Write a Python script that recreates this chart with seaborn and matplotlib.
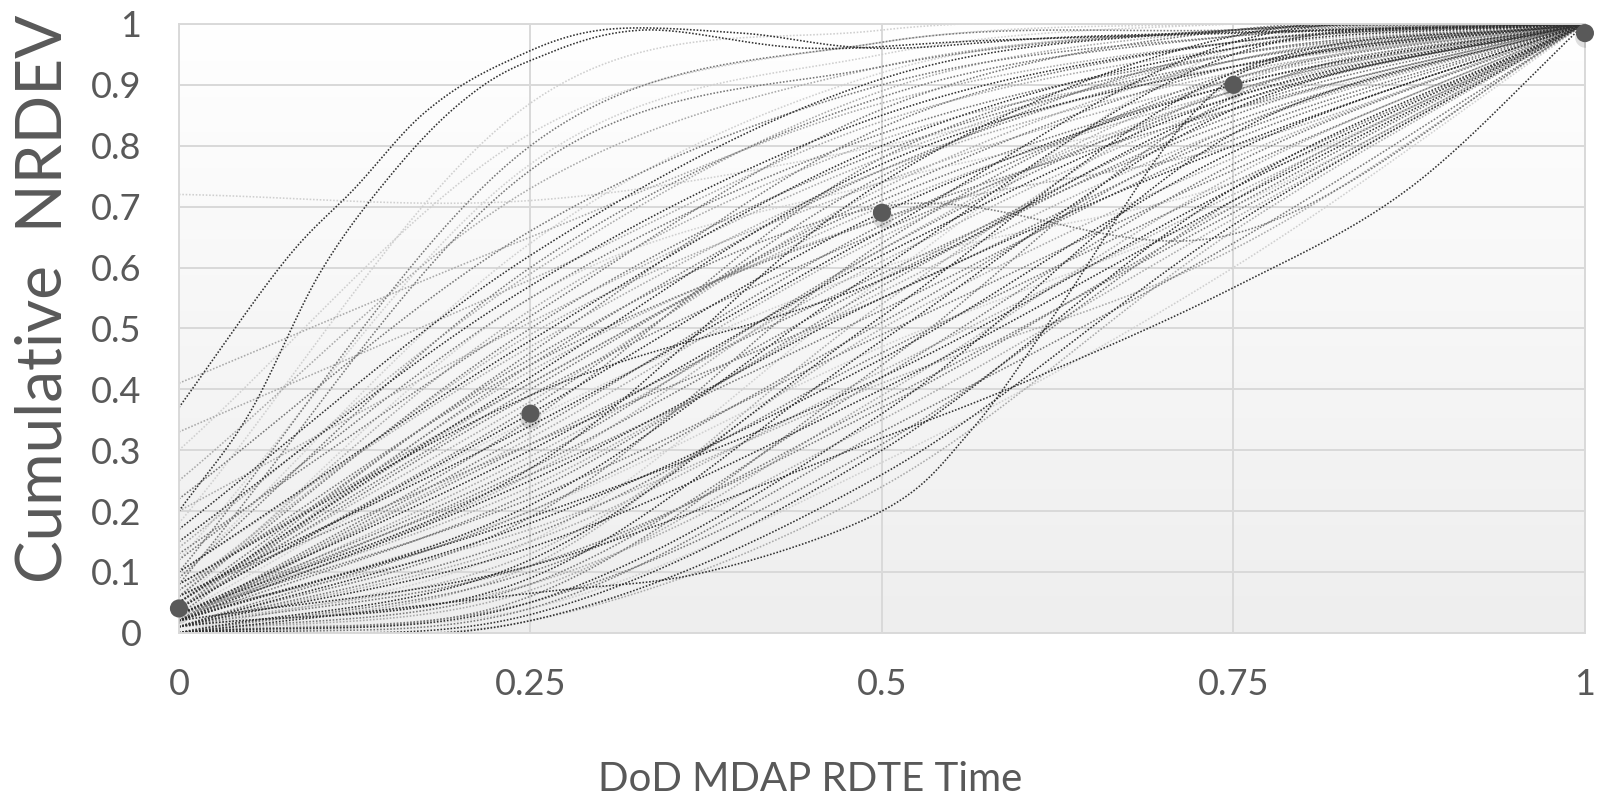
import numpy as np
import pandas as pd
import matplotlib
matplotlib.use("Agg")
import matplotlib.pyplot as plt
import seaborn as sns
from matplotlib.colors import LinearSegmentedColormap

# normalised time points where each programme's curve is sampled
CURVE_X = [0, 0.25, 0.5, 0.75, 1]

# outlier curves read with extra points (dark)
EARLY_A_X = [0, 0.075, 0.125, 0.175, 0.23, 0.3, 0.4, 0.5, 0.65, 1]
EARLY_A_Y = [0.37, 0.61, 0.73, 0.855, 0.935, 0.99, 0.985, 0.96, 0.98, 1.0]
EARLY_B_X = [0, 0.05, 0.1, 0.15, 0.2, 0.25, 0.33, 0.45, 0.6, 1]
EARLY_B_Y = [0.20, 0.36, 0.59, 0.75, 0.87, 0.94, 0.99, 0.96, 0.975, 1.0]
LATE_S_X = [0, 0.25, 0.375, 0.5, 0.5625, 0.625, 0.72, 0.8, 1]
LATE_S_Y = [0.0, 0.065, 0.10, 0.20, 0.33, 0.53, 0.85, 0.95, 1.0]
SLOW_X = [0, 0.25, 0.5, 0.62, 0.75, 0.875, 1]
SLOW_Y = [0.02, 0.11, 0.32, 0.43, 0.567, 0.73, 1.0]

DARK_CURVES = [
    [0.02, 0.25, 0.55, 0.80, 1.0],
    [0.05, 0.42, 0.77, 0.93, 1.0],
    [0.01, 0.18, 0.45, 0.79, 1.0],
    [0.15, 0.57, 0.85, 0.97, 1.0],
    [0.03, 0.30, 0.62, 0.88, 1.0],
    [0.00, 0.03, 0.30, 0.73, 1.0],
    [0.01, 0.14, 0.40, 0.71, 1.0],
    [0.04, 0.36, 0.69, 0.90, 1.0],
    [0.10, 0.48, 0.80, 0.96, 1.0],
    [0.00, 0.05, 0.36, 0.82, 1.0],
    [0.02, 0.21, 0.60, 0.95, 1.0],
    [0.06, 0.34, 0.66, 0.97, 1.0],
    [0.01, 0.09, 0.48, 0.86, 1.0],
    [0.00, 0.02, 0.26, 0.67, 1.0],
    [0.17, 0.62, 0.91, 0.99, 1.0],
    [0.03, 0.27, 0.74, 0.98, 1.0],
    [0.08, 0.39, 0.58, 0.87, 1.0],
    [0.00, 0.12, 0.52, 0.92, 1.0],
    [0.02, 0.19, 0.42, 0.73, 1.0],
]

MID_CURVES = [
    [0.04, 0.45, 0.70, 0.655, 1.0],
    [0.02, 0.33, 0.67, 0.91, 1.0],
    [0.05, 0.40, 0.72, 0.93, 1.0],
    [0.01, 0.20, 0.51, 0.83, 1.0],
    [0.12, 0.55, 0.82, 0.95, 1.0],
    [0.03, 0.28, 0.63, 0.89, 1.0],
    [0.00, 0.08, 0.42, 0.77, 1.0],
    [0.06, 0.50, 0.79, 0.94, 1.0],
    [0.02, 0.23, 0.57, 0.85, 1.0],
    [0.09, 0.60, 0.88, 0.98, 1.0],
    [0.01, 0.16, 0.46, 0.74, 1.0],
    [0.04, 0.37, 0.75, 0.96, 1.0],
    [0.00, 0.04, 0.33, 0.64, 1.0],
    [0.07, 0.44, 0.68, 0.86, 1.0],
    [0.02, 0.31, 0.59, 0.84, 1.0],
    [0.13, 0.52, 0.86, 0.99, 1.0],
    [0.03, 0.26, 0.53, 0.81, 1.0],
    [0.00, 0.10, 0.38, 0.69, 1.0],
    [0.05, 0.46, 0.83, 0.97, 1.0],
    [0.01, 0.19, 0.64, 0.92, 1.0],
    [0.22, 0.66, 0.90, 0.98, 1.0],
    [0.02, 0.35, 0.78, 0.95, 1.0],
    [0.00, 0.06, 0.44, 0.88, 1.0],
    [0.08, 0.41, 0.71, 0.90, 1.0],
    [0.03, 0.22, 0.49, 0.76, 1.0],
    [0.10, 0.80, 0.97, 0.99, 1.0],
    [0.08, 0.76, 0.93, 0.99, 1.0],
    [0.01, 0.11, 0.37, 0.70, 1.0],
    [0.02, 0.27, 0.58, 0.86, 1.0],
    [0.04, 0.39, 0.66, 0.88, 1.0],
    [0.00, 0.05, 0.31, 0.71, 1.0],
    [0.03, 0.44, 0.76, 0.94, 1.0],
    [0.06, 0.31, 0.55, 0.82, 1.0],
]

LIGHT_CURVES = [
    [0.41, 0.65, 0.87, 0.97, 1.0],
    [0.33, 0.58, 0.84, 0.96, 1.0],
    [0.02, 0.29, 0.61, 0.87, 1.0],
    [0.05, 0.38, 0.73, 0.94, 1.0],
    [0.01, 0.15, 0.43, 0.72, 1.0],
    [0.10, 0.47, 0.76, 0.92, 1.0],
    [0.03, 0.24, 0.56, 0.83, 1.0],
    [0.00, 0.07, 0.39, 0.75, 1.0],
    [0.06, 0.53, 0.81, 0.93, 1.0],
    [0.02, 0.32, 0.65, 0.89, 1.0],
    [0.14, 0.59, 0.89, 0.99, 1.0],
    [0.04, 0.43, 0.68, 0.80, 1.0],
    [0.01, 0.13, 0.50, 0.78, 1.0],
    [0.25, 0.73, 0.93, 0.99, 1.0],
    [0.03, 0.17, 0.41, 0.63, 1.0],
    [0.07, 0.49, 0.74, 0.91, 1.0],
    [0.00, 0.11, 0.54, 0.90, 1.0],
    [0.02, 0.26, 0.63, 0.91, 1.0],
    [0.01, 0.08, 0.35, 0.68, 1.0],
    [0.05, 0.41, 0.70, 0.89, 1.0],
    [0.20, 0.51, 0.78, 0.95, 1.0],
    [0.00, 0.02, 0.24, 0.66, 1.0],
]

FAINT_CURVES = [
    [0.72, 0.71, 0.80, 0.93, 1.0],
    [0.30, 0.82, 0.97, 1.00, 1.0],
    [0.18, 0.87, 0.99, 1.00, 1.0],
    [0.05, 0.55, 0.74, 0.86, 1.0],
    [0.02, 0.20, 0.47, 0.70, 1.0],
    [0.09, 0.64, 0.92, 0.99, 1.0],
    [0.00, 0.15, 0.58, 0.96, 1.0],
    [0.12, 0.77, 0.95, 1.00, 1.0],
    [0.03, 0.35, 0.60, 0.74, 1.0],
    [0.01, 0.04, 0.28, 0.60, 1.0],
]

# average markers
MARK_X = [0, 0.25, 0.5, 0.75, 1]
MARK_Y = [0.04, 0.36, 0.69, 0.90, 0.985]

Y_TICKS = [0, 0.1, 0.2, 0.3, 0.4, 0.5, 0.6, 0.7, 0.8, 0.9, 1]
Y_LABELS = ["0", "0.1", "0.2", "0.3", "0.4", "0.5", "0.6", "0.7", "0.8", "0.9", "1"]
X_TICKS = [0, 0.25, 0.5, 0.75, 1]
X_LABELS = ["0", "0.25", "0.5", "0.75", "1"]


def smooth_line(xs, ys, n=30):
    # catmull-rom smoothing, like the "smoothed line" option of the source chart
    p = np.column_stack([xs, ys]).astype(float)
    p = np.vstack([2 * p[0] - p[1], p, 2 * p[-1] - p[-2]])
    t = np.linspace(0, 1, n)[:, None]
    parts = []
    for i in range(1, len(p) - 2):
        p0, p1, p2, p3 = p[i - 1], p[i], p[i + 1], p[i + 2]
        seg = 0.5 * (2 * p1 + (p2 - p0) * t
                     + (2 * p0 - 5 * p1 + 4 * p2 - p3) * t ** 2
                     + (3 * p1 - p0 - 3 * p2 + p3) * t ** 3)
        parts.append(seg if i == 1 else seg[1:])
    return np.vstack(parts)


groups = [
    ("faint", "#cfcfcf", [(CURVE_X, c) for c in FAINT_CURVES]),
    ("light", "#a9a9a9", [(CURVE_X, c) for c in LIGHT_CURVES]),
    ("mid", "#777777", [(CURVE_X, c) for c in MID_CURVES]),
    ("dark", "#303030", [(CURVE_X, c) for c in DARK_CURVES]
     + [(EARLY_A_X, EARLY_A_Y), (EARLY_B_X, EARLY_B_Y),
        (LATE_S_X, LATE_S_Y), (SLOW_X, SLOW_Y)]),
]

frames = []
palette = {}
order = []
for name, colour, curves in groups:
    for k, (xs, ys) in enumerate(curves):
        cid = f"{name}{k}"
        pts = smooth_line(xs, ys)
        frames.append(pd.DataFrame({"t": pts[:, 0], "v": pts[:, 1], "curve": cid}))
        palette[cid] = colour
        order.append(cid)
df = pd.concat(frames, ignore_index=True)

sns.set_style("white")
plt.rcParams["font.family"] = ["Lato", "DejaVu Sans"]

fig = plt.figure(figsize=(16.05, 7.99), dpi=100)
ax = fig.add_axes([0.1115, 0.208, 0.876, 0.762])

# light vertical gradient behind the plot area
grad_cmap = LinearSegmentedColormap.from_list("bg", ["#ffffff", "#eeeeee"])
ax.imshow(np.linspace(0, 1, 256)[:, None], cmap=grad_cmap, aspect="auto",
          extent=[0, 1, 0, 1], origin="upper", zorder=-2)

sns.lineplot(data=df, x="t", y="v", hue="curve", hue_order=order, palette=palette,
             estimator=None, sort=False, legend=False, ax=ax,
             linestyle=(0, (1, 1.1)), linewidth=1.15)

# soft shadow then the markers
ax.scatter(MARK_X, np.array(MARK_Y) - 0.007, s=220,
           color="#000000", alpha=0.12, linewidths=0, zorder=4)
sns.scatterplot(x=MARK_X, y=MARK_Y, s=170, color="#595959", edgecolor="none",
                zorder=5, ax=ax, clip_on=False)

ax.set_xlim(0, 1)
ax.set_ylim(0, 1)
ax.set_xticks(X_TICKS)
ax.set_xticklabels(X_LABELS)
ax.set_yticks(Y_TICKS)
ax.set_yticklabels(Y_LABELS)
ax.grid(True, color="#d9d9d9", linewidth=1.4)
ax.set_axisbelow(True)
for s in ax.spines.values():
    s.set_color("#d9d9d9")
    s.set_linewidth(1.4)
ax.tick_params(axis="both", length=0, labelsize=26, labelcolor="#595959")
ax.tick_params(axis="y", pad=27)
ax.tick_params(axis="x", pad=25)
ax.set_xlabel("")
ax.set_ylabel("")

fig.text(0.027, 0.626, "Cumulative  NRDEV", rotation=90, ha="center", va="center",
         fontsize=46, color="#595959")
fig.text(0.505, 0.024, "DoD MDAP RDTE Time", ha="center", va="center",
         fontsize=29, color="#595959")

fig.savefig("out.png", dpi=100)
